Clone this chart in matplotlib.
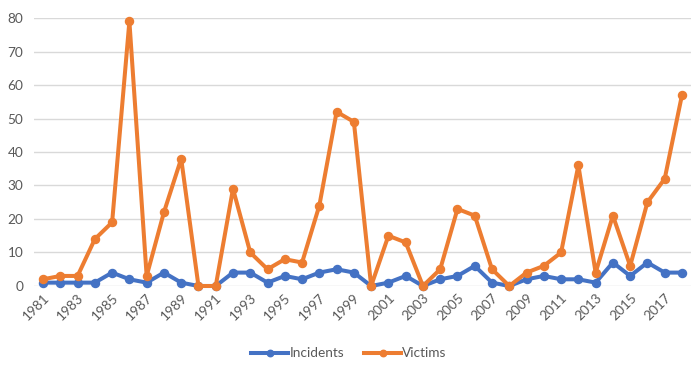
import matplotlib
matplotlib.use("Agg")
import matplotlib.pyplot as plt

years = list(range(1981, 2019))
incidents = [1, 1, 1, 1, 4, 2, 1, 4, 1, 0, 0, 4, 4, 1, 3, 2, 4, 5, 4, 0,
             1, 3, 0, 2, 3, 6, 1, 0, 2, 3, 2, 2, 1, 7, 3, 7, 4, 4]
victims = [2, 3, 3, 14, 19, 79, 3, 22, 38, 0, 0, 29, 10, 5, 8, 7, 24, 52, 49, 0,
           15, 13, 0, 5, 23, 21, 5, 0, 4, 6, 10, 36, 4, 21, 6, 25, 32, 57]
yticks = [0, 10, 20, 30, 40, 50, 60, 70, 80]

plt.rcParams['font.family'] = ['Lato', 'DejaVu Sans']

fig = plt.figure(figsize=(6.98, 3.72), dpi=100)
ax = fig.add_axes([0.0493, 0.2312, 0.9401, 0.7204])

xs = list(range(len(years)))
ax.plot(xs, incidents, color='#4472C4', lw=2.9, marker='o', ms=5.8, label='Incidents', zorder=3)
ax.plot(xs, victims, color='#ED7D31', lw=2.9, marker='o', ms=5.8, label='Victims', zorder=4)

ax.set_xlim(-0.5, len(years) - 0.5)
ax.set_ylim(0, 80)
ax.set_yticks(yticks)
ax.set_xticks(xs[::2])
ax.set_xticklabels([str(y) for y in years[::2]], rotation=45, ha='right',
                   rotation_mode='anchor')
ax.grid(axis='y', color='#D9D9D9', lw=1)
ax.set_axisbelow(True)
for s in ax.spines.values():
    s.set_visible(False)
ax.tick_params(axis='both', length=0, colors='#595959', labelsize=9.8)
ax.tick_params(axis='x', pad=4)
ax.tick_params(axis='y', pad=8)
for l in ax.lines:
    l.set_clip_on(False)

leg = fig.legend(loc='center', bbox_to_anchor=(0.5, 0.05), ncol=2, frameon=False,
                 fontsize=9.8, handlelength=2.7, columnspacing=1.5, handletextpad=0.1,
                 markerscale=0.8)
for t in leg.get_texts():
    t.set_color('#595959')

fig.savefig('out.png', dpi=100)
